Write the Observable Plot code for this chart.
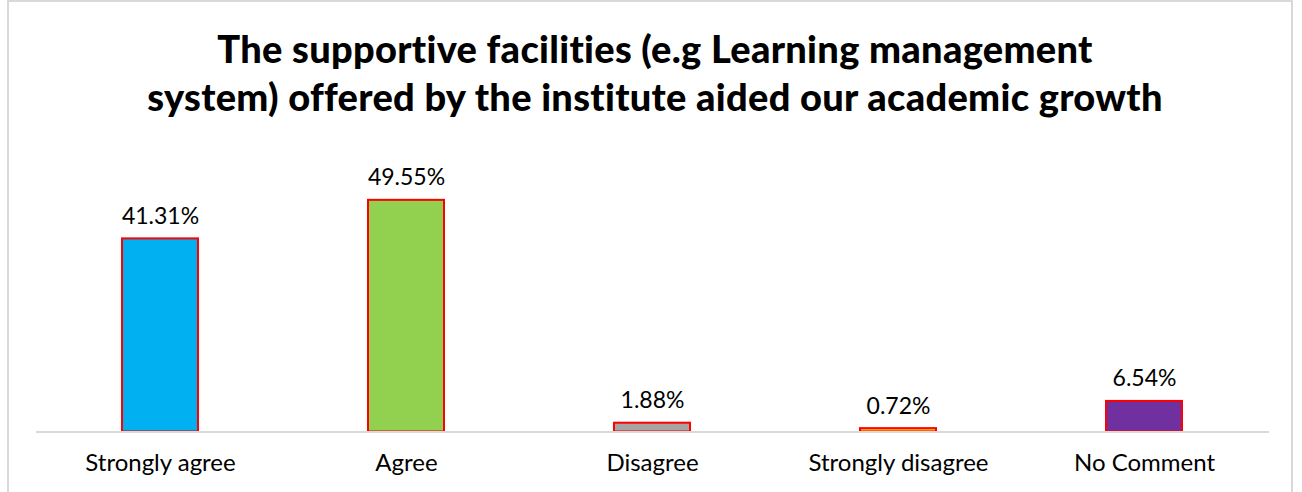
<!DOCTYPE html>
<html>
<head>
<meta charset="utf-8">
<script src="https://cdn.jsdelivr.net/npm/d3@7"></script>
<script src="https://cdn.jsdelivr.net/npm/@observablehq/plot@0.6"></script>
<style>
  html, body { margin: 0; padding: 0; background: #fff; }
  #wrap { position: relative; width: 1302px; height: 492px; overflow: hidden; }
  #border { position: absolute; left: 7px; top: 0px; width: 1286px; height: 520px; border: 2px solid #d9d9d9; box-sizing: border-box; }
  #title { position: absolute; left: 0; top: 24px; width: 1310px; text-align: center; font-family: Lato, sans-serif; font-weight: 900; font-size: 38px; line-height: 48px; color: #000; letter-spacing: 0.3px; }
  #chart { position: absolute; left: 0; top: 130px; }
</style>
</head>
<body>
<div id="wrap">
  <div id="border"></div>
  <div id="title">The supportive facilities (e.g Learning management<br>system) offered by the institute aided our academic growth</div>
  <div id="chart"></div>
</div>
<script>
const categories = ["Strongly agree", "Agree", "Disagree", "Strongly disagree", "No Comment"];
const values = [41.31, 49.55, 1.88, 0.72, 6.54];
const labels = ["41.31%", "49.55%", "1.88%", "0.72%", "6.54%"];
const colors = ["#00B0F0", "#92D050", "#A5A5A5", "#FFC000", "#7030A0"];

const data = categories.map((c, i) => ({category: c, value: values[i], label: labels[i], color: colors[i]}));

const chart = Plot.plot({
  width: 1302,
  height: 362,
  marginLeft: 36,
  marginRight: 33,
  marginTop: 21,
  marginBottom: 60.5,
  x: {domain: categories, paddingInner: 0.69, paddingOuter: 0.345, label: null},
  y: {domain: [0, 60], axis: null},
  style: {fontFamily: "Lato, sans-serif", background: "transparent"},
  marks: [
    Plot.barY(data, {x: "category", y: "value", fill: "color", stroke: "#FF0000", strokeWidth: 2}),
    Plot.ruleY([0], {stroke: "#d9d9d9", strokeWidth: 2}),
    Plot.text(data, {x: "category", y: "value", text: "label", dy: -15, lineAnchor: "bottom", fontSize: 23, fill: "#000"}),
    Plot.axisX({tickSize: 0, tickPadding: 22, fontSize: 24, color: "#000"})
  ]
});
document.getElementById("chart").appendChild(chart);
</script>
</body>
</html>
